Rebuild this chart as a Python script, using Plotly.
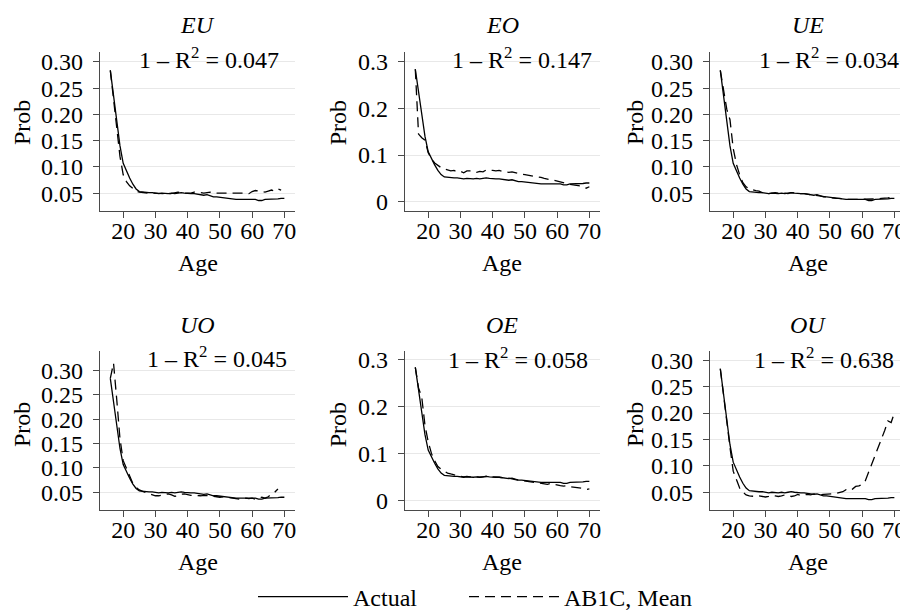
import plotly.graph_objects as go

# ---------------- data ----------------
ages = list(range(16, 71))

actual = [0.284, 0.235, 0.188, 0.140, 0.107, 0.092, 0.079, 0.067, 0.058, 0.053,
          0.052, 0.052, 0.051, 0.051, 0.050, 0.049, 0.050, 0.049, 0.049, 0.050,
          0.049, 0.050, 0.051, 0.050, 0.049, 0.049, 0.049, 0.048, 0.047, 0.046,
          0.047, 0.045, 0.043, 0.043, 0.042, 0.041, 0.041, 0.040, 0.039, 0.038,
          0.038, 0.038, 0.037, 0.038, 0.037, 0.038, 0.036, 0.036, 0.038, 0.038,
          0.039, 0.039, 0.039, 0.040, 0.040]

eu_model = [0.284, 0.225, 0.175, 0.120, 0.085, 0.072, 0.064, 0.058, 0.054, 0.052,
            0.051, 0.051, 0.050, 0.050, 0.050, 0.049, 0.049, 0.049, 0.048, 0.049,
            0.050, 0.052, 0.050, 0.050, 0.051, 0.050, 0.052, 0.052, 0.051, 0.050,
            0.051, 0.052, 0.050, 0.050, 0.051, 0.051, 0.050, 0.050, 0.051, 0.050,
            0.050, 0.051, 0.050, 0.049, 0.053, 0.055, 0.054, 0.052, 0.052, 0.054,
            0.056, 0.054, 0.058, 0.056]

eo_model = [0.284, 0.145, 0.137, 0.132, 0.105, 0.092, 0.083, 0.077, 0.073, 0.070,
            0.068, 0.066, 0.067, 0.064, 0.065, 0.062, 0.066, 0.066, 0.064, 0.063,
            0.065, 0.064, 0.068, 0.068, 0.067, 0.066, 0.067, 0.065, 0.064, 0.063,
            0.064, 0.062, 0.061, 0.059, 0.058, 0.057, 0.056, 0.055, 0.054, 0.052,
            0.050, 0.048, 0.047, 0.046, 0.044, 0.042, 0.040, 0.038, 0.037, 0.036,
            0.035, 0.034, 0.033, 0.029, 0.032]

ue_model = [0.284, 0.245, 0.210, 0.190, 0.135, 0.105, 0.085, 0.070, 0.062, 0.058,
            0.056, 0.055, 0.054, 0.051, 0.050, 0.049, 0.050, 0.051, 0.050, 0.049,
            0.050, 0.049, 0.051, 0.050, 0.050, 0.049, 0.049, 0.048, 0.047, 0.046,
            0.045, 0.045, 0.044, 0.043, 0.042, 0.041, 0.040, 0.040, 0.039, 0.039,
            0.038, 0.038, 0.038, 0.038, 0.039, 0.038, 0.038, 0.038, 0.039, 0.039,
            0.040, 0.040, 0.041, 0.042, 0.044]

uo_model = [0.284, 0.315, 0.240, 0.160, 0.115, 0.098, 0.082, 0.068, 0.060, 0.055,
            0.052, 0.050, 0.048, 0.045, 0.043, 0.043, 0.044, 0.046, 0.047, 0.045,
            0.042, 0.043, 0.046, 0.047, 0.045, 0.044, 0.044, 0.043, 0.043, 0.044,
            0.044, 0.043, 0.042, 0.041, 0.040, 0.041, 0.040, 0.039, 0.038, 0.037,
            0.036, 0.037, 0.038, 0.037, 0.038, 0.036, 0.038, 0.040, 0.038, 0.041,
            0.047, 0.050, 0.057]

oe_model = [0.284, 0.240, 0.220, 0.160, 0.125, 0.100, 0.084, 0.072, 0.066, 0.062,
            0.058, 0.056, 0.054, 0.052, 0.051, 0.050, 0.051, 0.050, 0.049, 0.050,
            0.049, 0.050, 0.051, 0.052, 0.050, 0.050, 0.049, 0.048, 0.046, 0.047,
            0.045, 0.044, 0.043, 0.042, 0.042, 0.041, 0.039, 0.038, 0.037, 0.036,
            0.035, 0.034, 0.036, 0.034, 0.032, 0.031, 0.030, 0.031, 0.029, 0.028,
            0.028, 0.026, 0.025, 0.023, 0.024]

ou_model = [0.284, 0.235, 0.175, 0.135, 0.090, 0.072, 0.058, 0.050, 0.045, 0.043,
            0.042, 0.042, 0.043, 0.042, 0.041, 0.042, 0.044, 0.043, 0.042, 0.043,
            0.045, 0.044, 0.042, 0.043, 0.046, 0.044, 0.045, 0.046, 0.045, 0.047,
            0.046, 0.045, 0.046, 0.046, 0.047, 0.047, 0.048, 0.050, 0.051, 0.055,
            0.053, 0.056, 0.061, 0.062, 0.065, 0.072, 0.088, 0.102, 0.118, 0.133,
            0.150, 0.167, 0.185, 0.182, 0.200]

panel_names = ["EU", "EO", "UE", "UO", "OE", "OU"]
models = [eu_model, eo_model, ue_model, uo_model, oe_model, ou_model]
r2_labels = ["0.047", "0.147", "0.034", "0.045", "0.058", "0.638"]
legend_names = ["Actual", "AB1C, Mean"]

x_ticks = [20, 30, 40, 50, 60, 70]
fine_ticks = [0.05, 0.10, 0.15, 0.20, 0.25, 0.30]
fine_text = ["0.05", "0.10", "0.15", "0.20", "0.25", "0.30"]
coarse_ticks = [0, 0.1, 0.2, 0.3]
coarse_text = ["0", "0.1", "0.2", "0.3"]

# ---------------- layout geometry (page pixels) ----------------
# the page body has an 8px margin, so the figure is 900x603 placed at (8, 8)
OFF = 8
W, H = 900, 603
col_px = [(100, 295), (405, 600), (710, 905)]
row_px = [(52, 211), (350.5, 510)]
y_ranges = [[0.016, 0.319], [-0.02, 0.321], [0.016, 0.319],
            [0.0138, 0.341], [-0.021, 0.32], [0.0164, 0.3185]]
tick_sets = [(fine_ticks, fine_text), (coarse_ticks, coarse_text), (fine_ticks, fine_text),
             (fine_ticks, fine_text), (coarse_ticks, coarse_text), (fine_ticks, fine_text)]
r2_centers = [(208.8, 57.5), (521.7, 57.5), (828.8, 57.5),
              (216.5, 357), (518.5, 357.5), (823.5, 357.5)]
prob_x = [22, 338.3, 635, 22, 338.3, 635]
prob_y = [123, 123, 123, 425, 425, 425]
title_y = [25, 25, 25, 325, 325, 325]
age_y = [263, 263, 263, 562, 562, 562]

FONT = "Liberation Serif, Times New Roman, serif"
FS = 24
AXC = "#4a4a4a"
GRID = "#e8e8e8"
NBSP = "\u00a0"


def px(x):
    return (x - OFF) / W


def py(y):
    return 1 - (y - OFF) / H


fig = go.Figure()
layout = {}
annotations = []

for i in range(6):
    r, c = divmod(i, 3)
    sfx = "" if i == 0 else str(i + 1)
    xa, ya = "x" + sfx, "y" + sfx
    m = models[i]
    fig.add_trace(go.Scatter(x=ages, y=actual, xaxis=xa, yaxis=ya, mode="lines",
                             line=dict(color="black", width=1.3),
                             name=legend_names[0] + NBSP * 7, showlegend=(i == 0)))
    fig.add_trace(go.Scatter(x=ages[:len(m)], y=m, xaxis=xa, yaxis=ya, mode="lines",
                             line=dict(color="black", width=1.3, dash="10px,6px"),
                             name=legend_names[1], showlegend=(i == 0)))
    x0, x1 = col_px[c]
    y0, y1 = row_px[r]
    tv, tt = tick_sets[i]
    layout["xaxis" + sfx] = dict(
        domain=[px(x0), px(x1)], range=[12.8, 73.3], anchor=ya,
        tickvals=x_ticks, ticks="outside", ticklen=6, tickcolor=AXC,
        showline=True, linecolor=AXC, linewidth=1.2, showgrid=False, zeroline=False,
        tickfont=dict(family=FONT, size=FS, color="black"), ticklabelstandoff=-8)
    layout["yaxis" + sfx] = dict(
        domain=[py(y1), py(y0)], range=y_ranges[i], anchor=xa,
        tickvals=tv, ticktext=tt, ticks="outside", ticklen=6, tickcolor=AXC,
        showline=True, linecolor=AXC, linewidth=1.2, showgrid=True, gridcolor=GRID,
        gridwidth=1, zeroline=False,
        tickfont=dict(family=FONT, size=FS, color="black"), ticklabelstandoff=5)
    cx = (x0 + x1) / 2
    annotations.append(dict(text="<i>%s</i>" % panel_names[i], x=px(cx), y=py(title_y[i]),
                            xref="paper", yref="paper", showarrow=False,
                            xanchor="center", yanchor="middle",
                            font=dict(family=FONT, size=FS, color="black")))
    rx, ry = r2_centers[i]
    annotations.append(dict(text="1 – R<sup>2</sup> = %s" % r2_labels[i], x=px(rx), y=py(ry),
                            xref="paper", yref="paper", showarrow=False,
                            xanchor="center", yanchor="middle",
                            font=dict(family=FONT, size=FS, color="black")))
    annotations.append(dict(text="Prob", x=px(prob_x[i]), y=py(prob_y[i]),
                            xref="paper", yref="paper", showarrow=False, textangle=-90,
                            xanchor="center", yanchor="middle",
                            font=dict(family=FONT, size=FS, color="black")))
    annotations.append(dict(text="Age", x=px(cx), y=py(age_y[i]),
                            xref="paper", yref="paper", showarrow=False,
                            xanchor="center", yanchor="middle",
                            font=dict(family=FONT, size=FS, color="black")))

fig.update_layout(
    width=W, height=H,
    margin=dict(l=0, r=0, t=0, b=0, autoexpand=False),
    paper_bgcolor="white", plot_bgcolor="white",
    font=dict(family=FONT, size=FS, color="black"),
    showlegend=True,
    legend=dict(orientation="h", x=px(475), xanchor="center", y=py(597), yanchor="middle",
                font=dict(family=FONT, size=FS, color="black"),
                itemwidth=90, bgcolor="rgba(0,0,0,0)", tracegroupgap=0),
    annotations=annotations,
    **layout,
)

fig.write_html("out.html")
